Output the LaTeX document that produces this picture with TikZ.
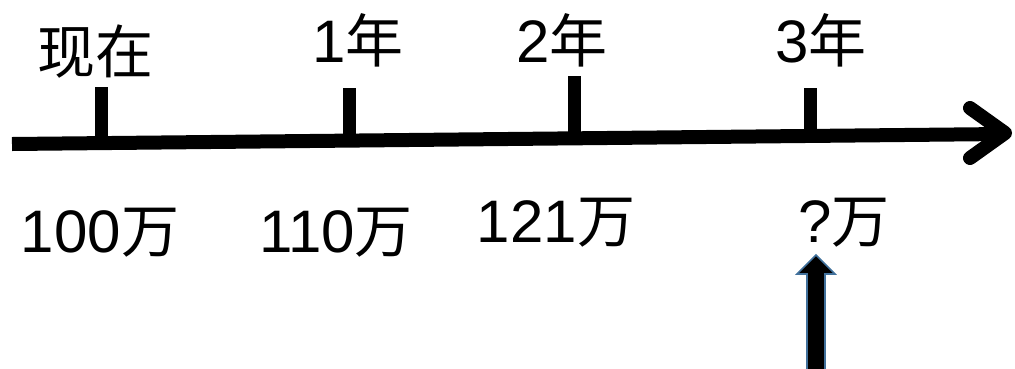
\documentclass[tikz,border=0pt]{standalone}
\usepackage{fontspec}
\setmainfont{Noto Sans CJK SC}
\newfontfamily\digfont{Liberation Sans}
\newcommand{\dg}[1]{{\digfont\fontsize{60}{62}\selectfont #1}}
\begin{document}
\begin{tikzpicture}[x=1pt,y=-1pt,
  lbl/.style={anchor=base,inner sep=0pt,font=\fontsize{58}{60}\selectfont},
  axisline/.style={line width=14pt,black},
  tickmark/.style={line width=13pt,black},
  uparrow/.style={fill=black,draw={rgb,255:red,65;green,113;blue,156},line width=1.6pt,line join=miter}]
\useasboundingbox (0,0) rectangle (1015,368);
% axis
\coordinate (a0) at (12,144);
\coordinate (a1) at (1003,134);
\draw[axisline] (a0) -- (a1);
\coordinate (h1) at (970,108);
\coordinate (h2) at (970,158);
\coordinate (ht) at (1005,133);
\draw[axisline,line cap=round,line join=round] (h1) -- (ht) -- (h2);
% ticks
\coordinate (t0) at (101.5,87);
\coordinate (t1) at (349.5,88);
\coordinate (t2) at (574.5,76);
\coordinate (t3) at (810.5,88);
\draw[tickmark] (t0) -- (101.5,143);
\draw[tickmark] (t1) -- (349.5,141);
\draw[tickmark] (t2) -- (574.5,139);
\draw[tickmark] (t3) -- (810.5,141);
% labels above
\node[lbl] (l0) at (95,73) {现在};
\node[lbl] (l1) at (358,62) {\dg{1}年};
\node[lbl] (l2) at (562,62) {\dg{2}年};
\node[lbl] (l3) at (821,62) {\dg{3}年};
% labels below
\node[lbl] (v0) at (100,252) {\dg{100}万};
\node[lbl] (v1) at (336,252) {\dg{110}万};
\node[lbl] (v2) at (556,242) {\dg{121}万};
\node[lbl] (v3) at (844,242) {\dg{?}万};
% up arrow
\draw[uparrow] (807,372) -- (807,274) -- (797,274) -- (816,255) -- (835,274) -- (825,274) -- (825,372) -- cycle;
\end{tikzpicture}
\end{document}
